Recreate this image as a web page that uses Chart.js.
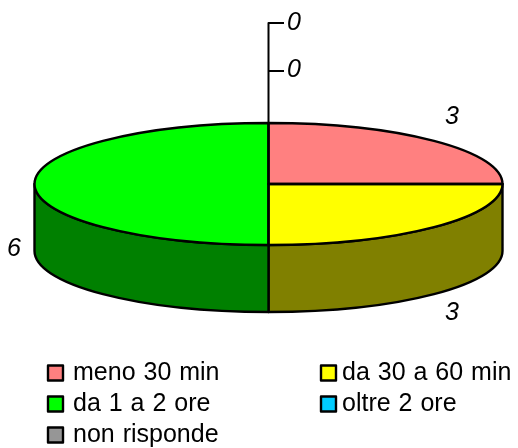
<!DOCTYPE html>
<html>
<head>
<meta charset="utf-8">
<style>html,body{margin:0;padding:0;background:#fff}canvas{display:block}</style>
<script src="https://cdn.jsdelivr.net/npm/chart.js@4"></script>
</head>
<body>
<canvas id="c" width="518" height="448"></canvas>
<script>
const categories = ["meno 30 min", "da 30 a 60 min", "da 1 a 2 ore", "oltre 2 ore", "non risponde"];
const values = [3, 3, 6, 0, 0];
const topColors = ["#FF8080", "#FFFF00", "#00FF00", "#00CCFF", "#969696"];
const sideColors = ["#804040", "#808000", "#008000", "#006680", "#4B4B4B"];

const RX = 234, RY = 61, DEPTH = 67, CX = 268.5, CY = 184;
const FONT = '"Liberation Sans", Arial, sans-serif';

function drawText(ctx, text, x, y, font) {
  ctx.save();
  ctx.font = font;
  ctx.wordSpacing = "1px";
  ctx.fillStyle = "#000";
  ctx.fillText(text, x, y);
  ctx.restore();
}

const pie3d = {
  id: "pie3d",
  beforeDatasetsDraw(chart) {
    const ctx = chart.ctx;
    const arcs = chart.getDatasetMeta(0).data;
    // side wall under the front half of the disc
    ctx.save();
    ctx.lineWidth = 2.4;
    ctx.strokeStyle = "#000";
    ctx.lineJoin = "round";
    arcs.forEach((a, i) => {
      const s = Math.max(a.startAngle, 0), e = Math.min(a.endAngle, Math.PI);
      if (e <= s) return;
      ctx.beginPath();
      ctx.ellipse(CX, CY, RX, RY, 0, s, e);
      ctx.ellipse(CX, CY + DEPTH, RX, RY, 0, e, s, true);
      ctx.closePath();
      ctx.fillStyle = sideColors[i];
      ctx.fill();
      ctx.stroke();
    });
    ctx.restore();
    // squash the library's flat pie into the tilted disc
    ctx.save();
    const k = RY / RX;
    const py = arcs[0].y;
    ctx.translate(0, CY);
    ctx.scale(1, k);
    ctx.translate(0, -py);
  },
  afterDatasetsDraw(chart) {
    const ctx = chart.ctx;
    ctx.restore();
    const arcs = chart.getDatasetMeta(0).data;
    ctx.save();
    ctx.lineWidth = 2.4;
    ctx.strokeStyle = "#000";
    ctx.lineJoin = "round";
    arcs.forEach((a) => {
      if (a.endAngle - a.startAngle <= 0) return;
      ctx.beginPath();
      ctx.moveTo(CX, CY);
      ctx.ellipse(CX, CY, RX, RY, 0, a.startAngle, a.endAngle);
      ctx.closePath();
      ctx.stroke();
    });
    // leader lines of the two empty slices
    ctx.lineWidth = 2;
    ctx.beginPath();
    ctx.moveTo(CX, CY - RY);
    ctx.lineTo(CX, 23);
    ctx.lineTo(284, 23);
    ctx.moveTo(CX, 71);
    ctx.lineTo(284, 71);
    ctx.stroke();
    // value labels
    ctx.textAlign = "center";
    ctx.textBaseline = "middle";
    const spots = [[452, 117], [452, 313], [14, 249], [294, 23], [294, 70]];
    values.forEach((v, i) => {
      drawText(ctx, String(v), spots[i][0], spots[i][1], "italic 25px " + FONT);
    });
    // legend
    ctx.textAlign = "left";
    ctx.textBaseline = "middle";
    ctx.lineWidth = 2.4;
    const cols = [47, 320], textX = [73, 342], rows = [373, 404, 435];
    categories.forEach((name, i) => {
      const c = i % 2, r = Math.floor(i / 2);
      ctx.fillStyle = topColors[i];
      ctx.fillRect(cols[c] + 1, rows[r] - 7.5, 15, 15);
      ctx.strokeRect(cols[c] + 1, rows[r] - 7.5, 15, 15);
      drawText(ctx, name, textX[c], rows[r], "25px " + FONT);
    });
    ctx.restore();
  }
};

new Chart(document.getElementById("c"), {
  type: "pie",
  data: {
    labels: categories,
    datasets: [{
      data: values,
      backgroundColor: topColors,
      borderWidth: 0,
      radius: RX
    }]
  },
  options: {
    responsive: false,
    animation: false,
    layout: { padding: { left: 19 } },
    plugins: { legend: { display: false }, tooltip: { enabled: false } }
  },
  plugins: [pie3d]
});
</script>
</body>
</html>
